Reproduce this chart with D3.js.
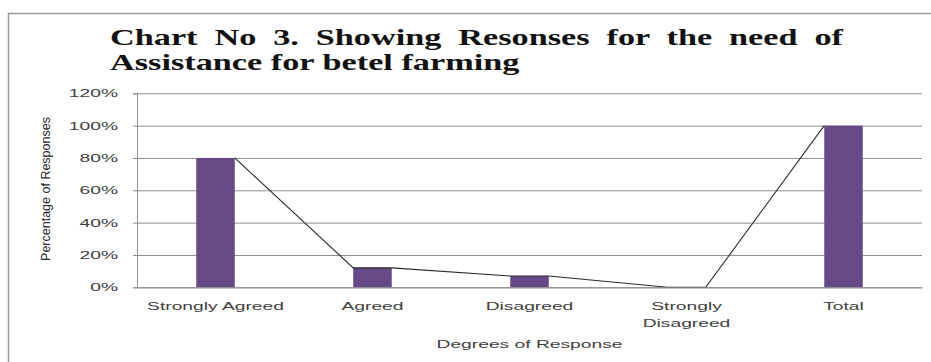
<!DOCTYPE html>
<html>
<head>
<meta charset="utf-8">
<script src="https://cdn.jsdelivr.net/npm/d3@7"></script>
<style>
  body { margin: 0; background: #fff; }
  svg { display: block; }
</style>
</head>
<body>
<svg id="chart" width="931" height="362"></svg>
<script>
// ---- data ----
const categories = ["Strongly Agreed", "Agreed", "Disagreed", "Strongly Disagreed", "Total"];
const categoryLabelLines = [["Strongly Agreed"], ["Agreed"], ["Disagreed"], ["Strongly", "Disagreed"], ["Total"]];
const responseShares = [0.80, 0.12, 0.07, 0.00, 1.00];
const percentTicks = [0, 0.2, 0.4, 0.6, 0.8, 1.0, 1.2];
const titleLines = ["Chart No 3. Showing Resonses for the need of", "Assistance for betel farming"];
const xAxisTitle = "Degrees of Response";
const yAxisTitle = "Percentage of Responses";

// ---- layout ----
const W = 931, H = 362;
const plot = { left: 137, right: 922, top: 93.3, bottom: 287.3 };
const TEXT_STRETCH = 1.75;   // horizontal stretch of the axis lettering
const TITLE_STRETCH = 1.49;  // horizontal stretch of the heading
const TITLE_WIDTH = 733;     // heading line 1 is justified to this width
const BAR_WIDTH = 38.5;
const SANS = '"Liberation Sans", Arial, sans-serif';
const SERIF = '"Liberation Serif", "Times New Roman", serif';
const GRID = "#8e8e8e";
const INK = "#404040";
const BAR_FILL = "#654a87";

const svg = d3.select("#chart");

// outer frame
svg.append("rect")
  .attr("x", 8.5).attr("y", 13.5)
  .attr("width", W + 20).attr("height", H + 20)
  .attr("fill", "none").attr("stroke", "#9a9a9a").attr("stroke-width", 1.5);

// ---- heading ----
const titleG = svg.append("g")
  .attr("font-family", SERIF).attr("font-weight", "bold")
  .attr("font-size", 23).attr("fill", "#111");
const baselines = [45, 70];
titleLines.forEach((line, i) => {
  const t = titleG.append("text")
    .attr("transform", `translate(110,${baselines[i]}) scale(${TITLE_STRETCH},1)`)
    .text(line);
  if (i === 0) {
    const natural = t.node().getComputedTextLength();
    const gaps = line.split(" ").length - 1;
    const extra = (TITLE_WIDTH / TITLE_STRETCH - natural) / gaps;
    t.style("word-spacing", extra + "px");
  }
});

// ---- scales ----
const x = d3.scaleBand().domain(categories).range([plot.left, plot.right]).padding(0);
const y = d3.scaleLinear().domain([0, 1.2]).range([plot.bottom, plot.top]);

// gridlines
svg.append("g")
  .attr("transform", `translate(${plot.left},0)`)
  .call(d3.axisLeft(y).tickValues(percentTicks).tickSize(-(plot.right - plot.left)).tickFormat(""))
  .call(g => g.select(".domain").remove())
  .call(g => g.selectAll("line").attr("stroke", GRID).attr("stroke-width", 1));

// y axis with percent labels
const yAxis = svg.append("g")
  .attr("transform", `translate(${plot.left},0)`)
  .call(d3.axisLeft(y).tickValues(percentTicks).tickSize(4).tickFormat(d3.format(".0%")));
yAxis.select(".domain").attr("stroke", GRID);
yAxis.selectAll(".tick line").attr("stroke", GRID);
yAxis.selectAll(".tick text")
  .attr("font-family", SANS).attr("font-size", 11).attr("fill", INK)
  .attr("x", -19 / TEXT_STRETCH)
  .attr("transform", `scale(${TEXT_STRETCH},1)`);

// bars
svg.append("g").selectAll("rect")
  .data(categories)
  .join("rect")
  .attr("x", d => x(d) + (x.bandwidth() - BAR_WIDTH) / 2)
  .attr("width", BAR_WIDTH)
  .attr("y", (d, i) => y(responseShares[i]))
  .attr("height", (d, i) => y(0) - y(responseShares[i]))
  .attr("fill", BAR_FILL);

// connecting line running over the bar-top corners
const linePts = [];
categories.forEach((c, i) => {
  const cx = x(c) + x.bandwidth() / 2;
  if (i > 0) linePts.push([cx - BAR_WIDTH / 2, y(responseShares[i])]);
  if (i < categories.length - 1) linePts.push([cx + BAR_WIDTH / 2, y(responseShares[i])]);
});
svg.append("path")
  .attr("d", d3.line()(linePts))
  .attr("fill", "none").attr("stroke", "#2a2a2a").attr("stroke-width", 1.1);

// x axis with category labels
const xAxis = svg.append("g")
  .attr("transform", `translate(0,${plot.bottom})`)
  .call(d3.axisBottom(x).tickSize(0).tickFormat(""));
xAxis.select(".domain").attr("stroke", GRID);
xAxis.selectAll(".tick").each(function(d, i) {
  const t = d3.select(this).select("text")
    .attr("font-family", SANS).attr("font-size", 11).attr("fill", INK)
    .attr("text-anchor", "middle").attr("y", 0).attr("dy", null)
    .attr("transform", `scale(${TEXT_STRETCH},1)`);
  categoryLabelLines[i].forEach((ln, k) => {
    t.append("tspan").attr("x", 0).attr("y", 23 + k * 17).text(ln);
  });
});

// axis titles
svg.append("text")
  .attr("transform", `translate(${(plot.left + plot.right) / 2},348) scale(${TEXT_STRETCH},1)`)
  .attr("text-anchor", "middle")
  .attr("font-family", SANS).attr("font-size", 11).attr("fill", INK)
  .text(xAxisTitle);

svg.append("text")
  .attr("transform", `translate(50,189) rotate(-90)`)
  .attr("text-anchor", "middle")
  .attr("font-family", SANS).attr("font-size", 12.5).attr("fill", "#2a2a2a")
  .text(yAxisTitle);
</script>
</body>
</html>
